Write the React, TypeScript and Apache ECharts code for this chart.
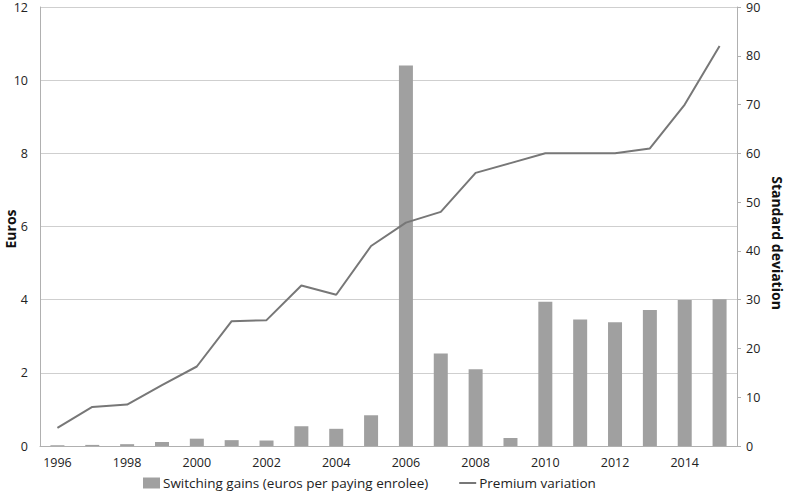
import React, { useEffect, useRef } from "react";
import * as echarts from "echarts";

const years = ["1996","1997","1998","1999","2000","2001","2002","2003","2004","2005","2006","2007","2008","2009","2010","2011","2012","2013","2014","2015"];
const switchingGains = [0.02,0.03,0.05,0.11,0.2,0.16,0.15,0.54,0.47,0.84,10.4,2.53,2.1,0.22,3.94,3.46,3.38,3.72,3.99,4.01];
const premiumVariation = [3.7,8.0,8.5,12.5,16.3,25.6,25.8,32.9,31.0,41.0,45.8,48.0,56.0,58.0,60.0,60.0,60.0,61.0,70.0,82.0];

const FONT = "'Open Sans', 'Liberation Sans', sans-serif";

export default function App() {
  const ref = useRef<HTMLDivElement>(null);
  useEffect(() => {
    const chart = echarts.init(ref.current!, null, { renderer: "svg" });
    chart.setOption({
      animation: false,
      textStyle: { fontFamily: FONT },
      grid: { left: 40, right: 50, top: 7, bottom: 46, containLabel: false },
      legend: {
        top: 471,
        left: 138,
        itemGap: 30,
        itemWidth: 17,
        itemHeight: 11,
        textStyle: { fontSize: 13.5, color: "#222", fontFamily: FONT, padding: [0, 0, 0, -2] },
        data: [
          { name: "Switching gains (euros per paying enrolee)", icon: "rect" },
          { name: "Premium variation", itemStyle: { opacity: 0 } },
        ],
      },
      graphic: [
        {
          type: "text",
          x: 10,
          y: 229,
          rotation: Math.PI / 2,
          style: {
            text: "Euros",
            font: "bold 14px " + FONT,
            fill: "#111",
            align: "center",
            verticalAlign: "middle",
          },
        },
        {
          type: "text",
          x: 777,
          y: 243,
          rotation: -Math.PI / 2,
          style: {
            text: "Standard deviation",
            font: "bold 14px " + FONT,
            fill: "#111",
            align: "center",
            verticalAlign: "middle",
          },
        },
      ],
      xAxis: {
        type: "category",
        data: years,
        axisLine: { lineStyle: { color: "#b0b0b0" } },
        axisTick: { show: false },
        axisLabel: { interval: 1, color: "#222", fontSize: 12.5, margin: 10 },
      },
      yAxis: [
        {
          type: "value",
          min: 0,
          max: 12,
          interval: 2,
          axisLine: { show: true, lineStyle: { color: "#b0b0b0" } },
          axisTick: { show: false },
          axisLabel: { color: "#222", fontSize: 12.5, margin: 12 },
          splitLine: { lineStyle: { color: "#cfcfcf" } },
        },
        {
          type: "value",
          min: 0,
          max: 90,
          interval: 10,
          position: "right",
          axisLine: { show: true, lineStyle: { color: "#b0b0b0" } },
          axisTick: { show: true, length: 4, lineStyle: { color: "#b0b0b0" } },
          axisLabel: { color: "#222", fontSize: 12.5, margin: 9 },
          splitLine: { show: false },
        },
      ],
      series: [
        {
          name: "Switching gains (euros per paying enrolee)",
          type: "bar",
          yAxisIndex: 0,
          data: switchingGains,
          barWidth: 14,
          itemStyle: { color: "#a0a0a0" },
        },
        {
          name: "Premium variation",
          type: "line",
          yAxisIndex: 1,
          data: premiumVariation,
          symbol: "none",
          lineStyle: { color: "#777777", width: 2 },
          itemStyle: { color: "#777777" },
        },
      ],
    });
    return () => chart.dispose();
  }, []);
  return (
    <div
      ref={ref}
      style={{ position: "fixed", left: 0, top: 0, width: 787, height: 492, background: "#fff" }}
    />
  );
}
